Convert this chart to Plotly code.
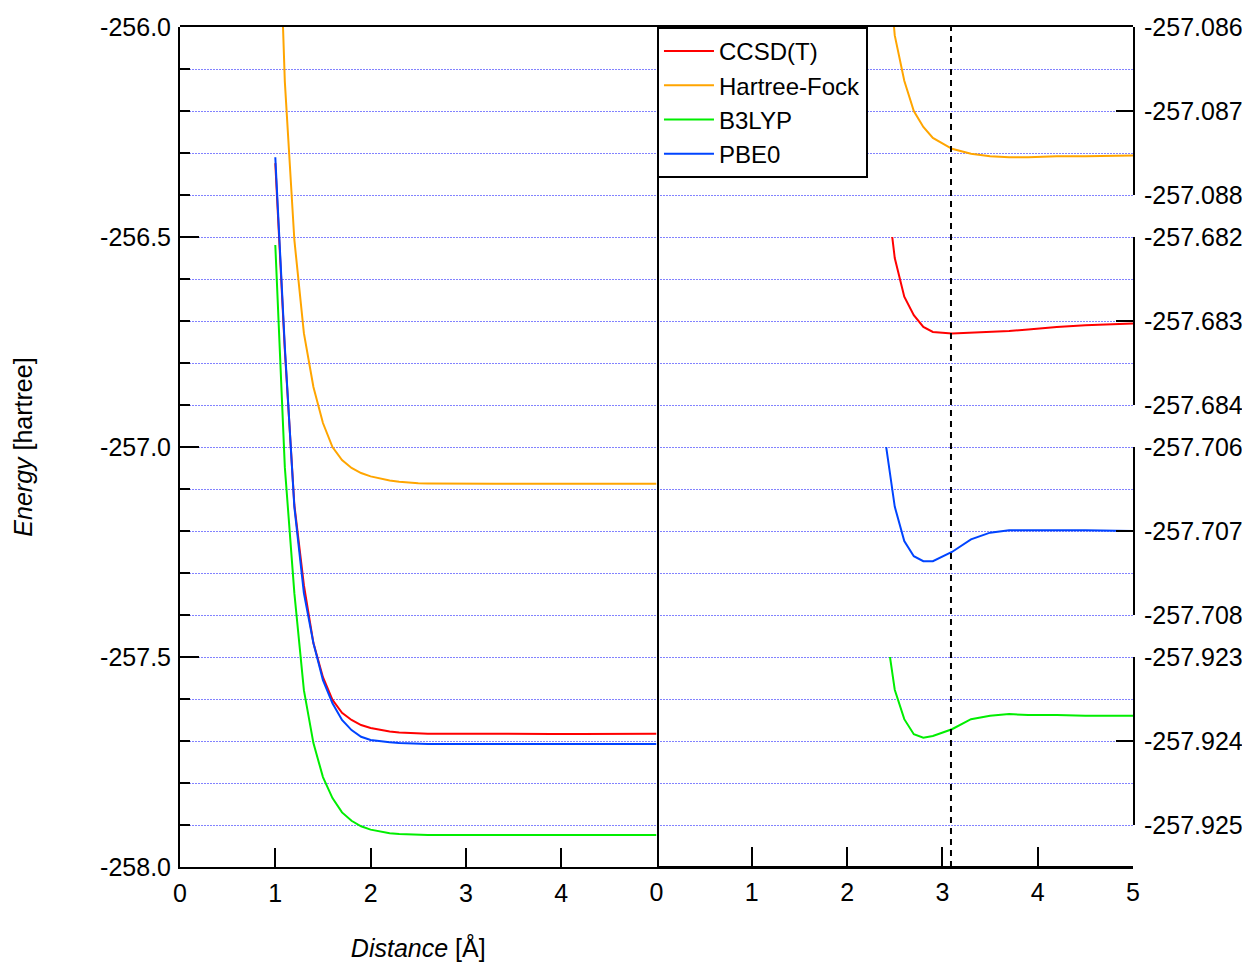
import plotly.graph_objects as go

# ---------------- data ----------------
distance = [1.0, 1.1, 1.2, 1.3, 1.4, 1.5, 1.6, 1.7, 1.8, 1.9, 2.0, 2.1, 2.2, 2.3, 2.4,
            2.5, 2.6, 2.7, 2.8, 2.9, 3.1, 3.3, 3.5, 3.7, 3.9, 4.2, 4.5, 5.0]

ccsdt = [-256.324, -256.769, -257.138, -257.329, -257.467, -257.548, -257.602, -257.633,
         -257.650, -257.662, -257.669, -257.674, -257.6775, -257.6798, -257.6813,
         -257.68225, -257.68271, -257.68293, -257.68307, -257.68313, -257.68315,
         -257.68314, -257.68313, -257.68312, -257.68310, -257.68307, -257.68305, -257.68303]

hartree_fock = [-255.45, -256.13, -256.507, -256.729, -256.857, -256.943, -257.000, -257.031,
                -257.050, -257.062, -257.070, -257.0755, -257.0795, -257.0825, -257.0848,
                -257.0861, -257.08664, -257.08700, -257.08719, -257.08732, -257.08745,
                -257.08751, -257.08754, -257.08755, -257.08755, -257.08754, -257.08754, -257.08753]

b3lyp = [-256.519, -257.048, -257.348, -257.579, -257.705, -257.786, -257.836, -257.870,
         -257.890, -257.903, -257.911, -257.916, -257.9195, -257.9215, -257.92261,
         -257.92339, -257.92374, -257.92392, -257.92396, -257.92394, -257.92386,
         -257.92374, -257.92370, -257.92368, -257.92369, -257.92369, -257.92370, -257.92370]

pbe0 = [-256.310, -256.762, -257.143, -257.348, -257.467, -257.555, -257.610, -257.650,
        -257.674, -257.690, -257.6975, -257.7005, -257.7027, -257.7045, -257.70592,
        -257.70671, -257.70712, -257.70730, -257.70736, -257.70736, -257.70725,
        -257.70710, -257.70702, -257.70699, -257.70699, -257.70699, -257.70699, -257.70700]

series_names = ["CCSD(T)", "Hartree-Fock", "B3LYP", "PBE0"]
series_values = [ccsdt, hartree_fock, b3lyp, pbe0]
series_colors = ["#ff0000", "#ffa500", "#00ee00", "#0044ff"]

# left panel axis
left_range = [-258.0, -256.0]
left_major_ticks = [-258.0, -257.5, -257.0, -256.5, -256.0]
left_major_labels = ["-258.0", "-257.5", "-257.0", "-256.5", "-256.0"]

# right panel: one zoomed window per method
zoom_ranges = {
    "Hartree-Fock": [-257.088, -257.086],
    "CCSD(T)": [-257.684, -257.682],
    "PBE0": [-257.708, -257.706],
    "B3LYP": [-257.925, -257.923],
}
zoom_ticks = {
    "Hartree-Fock": ([-257.088, -257.087, -257.086], ["-257.088", "-257.087", "-257.086"]),
    "CCSD(T)": ([-257.684, -257.683, -257.682], ["-257.684", "-257.683", "-257.682"]),
    "PBE0": ([-257.708, -257.707, -257.706], ["-257.708", "-257.707", "-257.706"]),
    "B3LYP": ([-257.925, -257.924, -257.923], ["-257.925", "-257.924", "-257.923"]),
}
zoom_order = ["Hartree-Fock", "CCSD(T)", "PBE0", "B3LYP"]
zoom_domains = [[0.8, 1.0], [0.55, 0.75], [0.3, 0.5], [0.05, 0.25]]

x_ticks_left = [0, 1, 2, 3, 4]
x_ticks_right = [0, 1, 2, 3, 4, 5]
marker_distance = 3.09

# ---------------- figure ----------------
FONT = "Liberation Sans, Arial, sans-serif"
fig = go.Figure()

# empty trace so that the full-size frame/grid subplot (x, y) is created first (drawn underneath)
fig.add_trace(go.Scatter(x=[], y=[], mode="lines", xaxis="x", yaxis="y",
                         showlegend=False, hoverinfo="skip"))

zoom_axis = {name: "y%d" % (i + 3) for i, name in enumerate(zoom_order)}

for name, vals, col in zip(series_names, series_values, series_colors):
    fig.add_trace(go.Scatter(x=distance, y=vals, mode="lines", name=name,
                             line=dict(color=col, width=2),
                             xaxis="x2", yaxis="y2", showlegend=True))
for name, vals, col in zip(series_names, series_values, series_colors):
    fig.add_trace(go.Scatter(x=distance, y=vals, mode="lines", name=name,
                             line=dict(color=col, width=2),
                             xaxis="x3", yaxis=zoom_axis[name], showlegend=False))

tickfont = dict(family=FONT, size=25, color="black")

layout = dict(
    width=1250, height=965,
    margin=dict(l=172, r=125, t=19, b=106, autoexpand=False),
    paper_bgcolor="white", plot_bgcolor="rgba(0,0,0,0)",
    font=dict(family=FONT, size=25, color="black"),
    showlegend=True,
    legend=dict(x=0.5005, y=1.0, xanchor="left", yanchor="top",
                bgcolor="white", bordercolor="black", borderwidth=2,
                font=dict(family=FONT, size=24, color="black"),
                tracegroupgap=0, itemwidth=50),
    # full frame + grid
    xaxis=dict(domain=[0, 1], range=[0, 1], anchor="y", showline=True, mirror=True,
               linecolor="black", linewidth=2, ticks="", showticklabels=False,
               showgrid=False, zeroline=False, fixedrange=True, automargin=False),
    yaxis=dict(domain=[0, 1], range=left_range, anchor="x", showline=False,
               showgrid=True, gridcolor="rgb(130,130,255)", gridwidth=1, griddash="2px,1px",
               tick0=-258, dtick=0.1, ticks="", showticklabels=False, zeroline=False,
               automargin=False, fixedrange=True),
    # left panel
    xaxis2=dict(domain=[0, 0.5], range=[0, 5], anchor="y2", showline=True,
                linecolor="black", linewidth=2, ticks="inside", ticklen=19, tickwidth=2,
                tickcolor="black", tickvals=x_ticks_left, ticktext=[str(v) for v in x_ticks_left],
                tickfont=tickfont, showgrid=False, zeroline=False, ticklabelstandoff=3,
                automargin=False,
                title=dict(text="<i>Distance</i> [Å]", font=dict(family=FONT, size=25), standoff=33)),
    yaxis2=dict(domain=[0, 1], range=left_range, anchor="x2", showline=True, mirror=True,
                linecolor="black", linewidth=2, ticks="inside", ticklen=19, tickwidth=2,
                tickcolor="black", tickvals=left_major_ticks, ticktext=left_major_labels,
                tickfont=tickfont, showgrid=False, zeroline=False, ticklabelstandoff=2,
                automargin=False,
                minor=dict(tick0=-258, dtick=0.1, ticks="inside", ticklen=10, tickwidth=2,
                           tickcolor="black", showgrid=False),
                title=dict(text="<i>Energy</i> [hartree]", font=dict(family=FONT, size=25), standoff=60)),
    # right panel
    xaxis3=dict(domain=[0.5, 1], range=[0, 5], anchor="free", position=0, showline=True,
                linecolor="black", linewidth=2, ticks="inside", ticklen=19, tickwidth=2,
                tickcolor="black", tickvals=x_ticks_right, ticktext=[str(v) for v in x_ticks_right],
                tickfont=tickfont, showgrid=False, zeroline=False, ticklabelstandoff=3,
                automargin=False),
    shapes=[dict(type="line", xref="x3", yref="paper", x0=marker_distance, x1=marker_distance,
                 y0=0, y1=1, line=dict(color="black", width=2, dash="6px,5px"), layer="above")],
)

for i, name in enumerate(zoom_order):
    tv, tt = zoom_ticks[name]
    layout["yaxis%d" % (i + 3)] = dict(
        domain=zoom_domains[i], range=zoom_ranges[name], anchor="x3", side="right",
        showline=True, linecolor="black", linewidth=2, ticks="inside", ticklen=17, tickwidth=2,
        tickcolor="black", tickvals=tv, ticktext=tt, tickfont=tickfont, ticklabelstandoff=4,
        showgrid=False, zeroline=False, automargin=False)

fig.update_layout(**layout)
fig.write_html("out.html")
